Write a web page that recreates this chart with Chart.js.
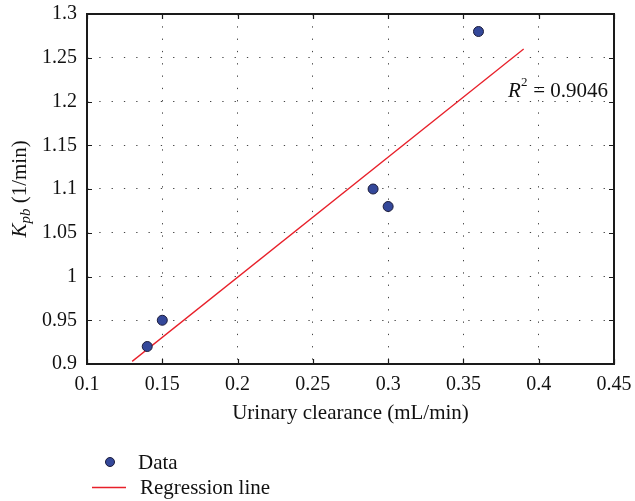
<!DOCTYPE html>
<html>
<head>
<meta charset="utf-8">
<script src="https://cdn.jsdelivr.net/npm/chart.js@4"></script>
<style>
  body { margin: 0; background: #fff; }
  #wrap { width: 635px; height: 501px; }
</style>
</head>
<body>
<div id="wrap"><canvas id="chart" width="635" height="501"></canvas></div>
<script>
// measured points
const clearance = [0.14, 0.15, 0.29, 0.30, 0.36];
const kpb = [0.92, 0.95, 1.10, 1.08, 1.28];
// regression line end points
const fitX = [0.13, 0.39];
const fitY = [0.903, 1.26];
const rSquared = "0.9046";
const xTitle = "Urinary clearance (mL/min)";
const legendLabels = ["Data", "Regression line"];

const serif = "'Liberation Serif', 'DejaVu Serif', serif";

const points = clearance.map((x, i) => ({ x: x, y: kpb[i] }));
const fitLine = fitX.map((x, i) => ({ x: x, y: fitY[i] }));

const fmt = (v) => String(Number(v.toFixed(2)));

// frame, inside ticks, y title, R2 text and legend
const extras = {
    id: "extras",
    afterDraw(chart) {
        const ctx = chart.ctx;
        const a = chart.chartArea;
        const xs = chart.scales.x;
        const ys = chart.scales.y;
        ctx.save();
        ctx.strokeStyle = "#1a1a1a";
        ctx.lineWidth = 1.2;
        xs.ticks.forEach((t) => {
            const px = Math.round(xs.getPixelForValue(t.value)) + 0.5;
            ctx.beginPath();
            ctx.moveTo(px, a.bottom); ctx.lineTo(px, a.bottom - 5);
            ctx.moveTo(px, a.top); ctx.lineTo(px, a.top + 5);
            ctx.stroke();
        });
        ys.ticks.forEach((t) => {
            const py = Math.round(ys.getPixelForValue(t.value)) + 0.5;
            ctx.beginPath();
            ctx.moveTo(a.left, py); ctx.lineTo(a.left + 5, py);
            ctx.moveTo(a.right, py); ctx.lineTo(a.right - 5, py);
            ctx.stroke();
        });
        ctx.lineWidth = 2;
        ctx.strokeRect(a.left, a.top, a.right - a.left, a.bottom - a.top);

        // y axis title: K_pb (1/min)
        ctx.fillStyle = "#111";
        ctx.translate(26, (a.top + a.bottom) / 2);
        ctx.rotate(-Math.PI / 2);
        ctx.textBaseline = "alphabetic";
        ctx.font = "italic 21px " + serif;
        const wK = ctx.measureText("K").width;
        ctx.font = "italic 15px " + serif;
        const wSub = ctx.measureText("pb").width;
        ctx.font = "21px " + serif;
        const wRest = ctx.measureText(" (1/min)").width;
        let x0 = -(wK + wSub + wRest) / 2;
        ctx.font = "italic 21px " + serif;
        ctx.fillText("K", x0, 0);
        ctx.font = "italic 15px " + serif;
        ctx.fillText("pb", x0 + wK, 4);
        ctx.font = "21px " + serif;
        ctx.fillText(" (1/min)", x0 + wK + wSub, 0);
        ctx.setTransform(1, 0, 0, 1, 0, 0);

        // R2 label
        ctx.font = "21px " + serif;
        const rest = " = " + rSquared;
        const wr = ctx.measureText(rest).width;
        let rx = a.right - 6 - wr;
        ctx.fillText(rest, rx, 97);
        ctx.font = "13px " + serif;
        ctx.fillText("2", rx - 7, 86);
        ctx.font = "italic 21px " + serif;
        ctx.fillText("R", rx - 7 - ctx.measureText("R").width, 97);

        // legend
        ctx.beginPath();
        ctx.arc(110, 462, 4.5, 0, Math.PI * 2);
        ctx.fillStyle = "#34489a";
        ctx.fill();
        ctx.lineWidth = 1;
        ctx.strokeStyle = "#1b1b3a";
        ctx.stroke();
        ctx.strokeStyle = "#e8202a";
        ctx.lineWidth = 1.3;
        ctx.beginPath();
        ctx.moveTo(92, 487.5); ctx.lineTo(126, 487.5);
        ctx.stroke();
        ctx.fillStyle = "#111";
        ctx.font = "21px " + serif;
        ctx.fillText(legendLabels[0], 138, 469);
        ctx.fillText(legendLabels[1], 140, 494);
        ctx.restore();
    }
};

const ctx = document.getElementById("chart").getContext("2d");
const chart = new Chart(ctx, {
    type: "scatter",
    data: {
        datasets: [
            {
                label: legendLabels[0],
                data: points,
                pointRadius: 5,
                pointBackgroundColor: "#34489a",
                pointBorderColor: "#1b1b3a",
                pointBorderWidth: 1,
                order: 1
            },
            {
                label: legendLabels[1],
                data: fitLine,
                showLine: true,
                pointRadius: 0,
                borderColor: "#e8202a",
                borderWidth: 1.3,
                order: 2
            }
        ]
    },
    options: {
        responsive: false,
        animation: false,
        layout: { padding: { top: 14, right: 21, bottom: 75, left: 0 } },
        plugins: { legend: { display: false }, tooltip: { enabled: false } },
        scales: {
            x: {
                min: 0.1,
                max: 0.45,
                afterFit: (s) => { s.height = 62; s.paddingLeft = 0; s.paddingRight = 0; },
                ticks: {
                    stepSize: 0.05,
                    color: "#111",
                    padding: 9,
                    font: { family: serif, size: 20 },
                    callback: (v) => fmt(v)
                },
                grid: {
                    color: "#444",
                    lineWidth: 1,
                    drawTicks: false
                },
                border: { display: false, dash: [1.3, 11] },
                title: {
                    display: true,
                    text: xTitle,
                    color: "#111",
                    font: { family: serif, size: 21 },
                    padding: { top: 4, bottom: 0 }
                }
            },
            y: {
                min: 0.9,
                max: 1.3,
                afterFit: (s) => { s.width = 87; s.paddingTop = 0; s.paddingBottom = 0; },
                ticks: {
                    stepSize: 0.05,
                    color: "#111",
                    padding: 10,
                    font: { family: serif, size: 20 },
                    callback: (v) => fmt(v)
                },
                grid: {
                    color: "#444",
                    lineWidth: 1,
                    drawTicks: false
                },
                border: { display: false, dash: [1.3, 11] }
            }
        }
    },
    plugins: [extras]
});
</script>
</body>
</html>
